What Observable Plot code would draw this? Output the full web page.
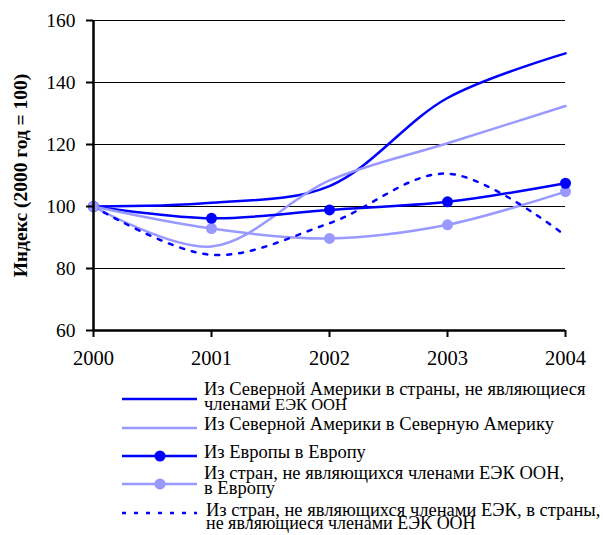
<!DOCTYPE html>
<html><head><meta charset="utf-8">
<script src="https://cdn.jsdelivr.net/npm/d3@7"></script>
<script src="https://cdn.jsdelivr.net/npm/@observablehq/plot@0.6"></script>
<style>
body{margin:0;background:#fff;font-family:'Liberation Serif','DejaVu Serif',serif;}
#wrap{position:relative;width:603px;height:535px;}
#chart{position:absolute;left:0;top:0;}
.lg{position:absolute;left:0;top:0;}
.lg text{font-family:'Liberation Serif','DejaVu Serif',serif;fill:#000;}
#chart svg text{font-family:'Liberation Serif','DejaVu Serif',serif;}
</style></head>
<body><div id="wrap"><div id="chart"></div></div>
<script>
const years = [2000, 2001, 2002, 2003, 2004];
const naToNonUnece = [100, 101.2, 106.6, 135, 149.4];
const naToNa = [100, 87.1, 108.4, 120.4, 132.4];
const euToEu = [100, 96.2, 98.9, 101.5, 107.5];
const nonUneceToEu = [100, 92.9, 89.7, 94.1, 104.8];
const nonToNon = [100, 84.4, 94.6, 110.6, 90.6];
const yTicks = [60, 80, 100, 120, 140, 160];
const gridTicks = [80, 100, 120, 140, 160];
const yLabel = "Индекс (2000 год = 100)";
// each line: list of [text, fontSize]
const seriesNames = [
  [[["Из Северной Америки в страны, не являющиеся", 18.5]], [["членами ", 18.5], ["ЕЭК ООН", 16.5]]],
  [[["Из Северной Америки в Северную Америку", 18.5]]],
  [[["Из Европы в Европу", 18.5]]],
  [[["Из стран, не являющихся членами ЕЭК ООН,", 18.5]], [["в Европу", 18.5]]],
  [[["Из стран, не являющихся членами ЕЭК, в страны,", 18.5]], [["не являющиеся членами ЕЭК ООН", 18]]]
];
const dark = "#0000ff", light = "#9999ff";
const styles = [
  {stroke: dark, dash: null, marker: false},
  {stroke: light, dash: null, marker: false},
  {stroke: dark, dash: null, marker: true},
  {stroke: light, dash: null, marker: true},
  {stroke: dark, dash: "4,8", marker: false}
];
const seriesVals = [naToNonUnece, naToNa, euToEu, nonUneceToEu, nonToNon];
const tab = (vals) => years.map((y, i) => ({year: y, v: vals[i]}));

const marks = [
  Plot.ruleY(gridTicks, {stroke: "#000", strokeWidth: 1}),
];
seriesVals.forEach((vals, k) => {
  const s = styles[k];
  marks.push(Plot.line(tab(vals), {x: "year", y: "v", stroke: s.stroke, strokeWidth: 2.5,
    curve: "catmull-rom", strokeDasharray: s.dash || undefined}));
});
marks.push(Plot.dot(tab(nonUneceToEu), {x: "year", y: "v", r: 5.5, fill: light, stroke: "none"}));
marks.push(Plot.dot(tab(euToEu), {x: "year", y: "v", r: 5.5, fill: dark, stroke: "none"}));
marks.push(Plot.dot(tab(naToNa).slice(0,1), {x: "year", y: "v", r: 5.5, fill: light, stroke: "none"}));
marks.push(Plot.ruleX([2000], {stroke: "#000", strokeWidth: 2.5}));
marks.push(Plot.ruleY([60], {stroke: "#000", strokeWidth: 2.5}));
marks.push(Plot.axisY({ticks: yTicks, tickSize: 7, tickPadding: 11, strokeWidth: 2, fontSize: 19.5, label: null, tickFormat: d => d}));
marks.push(Plot.axisX({ticks: years, tickSize: 7, tickPadding: 13, strokeWidth: 2, fontSize: 20.5, label: null, tickFormat: d => String(d)}));
marks.push(Plot.text([yLabel], {frameAnchor: "left", textAnchor: "middle", rotate: -90, dx: -73, fontWeight: "bold", fontSize: 19.5, fill: "#000"}));

const chart = Plot.plot({
  width: 603, height: 372,
  marginLeft: 93, marginRight: 38, marginTop: 20, marginBottom: 42,
  style: {fontFamily: "'Liberation Serif', 'DejaVu Serif', serif", color: "#000", background: "transparent"},
  x: {domain: [2000, 2004]},
  y: {domain: [60, 160]},
  marks
});
document.getElementById("chart").appendChild(chart);

// legend
const wrap = document.getElementById("wrap");
const lineY = [399, 428, 456, 484, 513];
const baselines = [[395, 409.5], [430], [458.3], [479, 494.3], [516, 529.3]];
const ns = "http://www.w3.org/2000/svg";
const lsvg = document.createElementNS(ns, "svg");
lsvg.setAttribute("width", 603); lsvg.setAttribute("height", 535);
lsvg.setAttribute("class", "lg");
styles.forEach((s, k) => {
  const l = document.createElementNS(ns, "line");
  l.setAttribute("x1", 122); l.setAttribute("x2", 197);
  l.setAttribute("y1", lineY[k]); l.setAttribute("y2", lineY[k]);
  l.setAttribute("stroke", s.stroke); l.setAttribute("stroke-width", 2.5);
  if (s.dash) l.setAttribute("stroke-dasharray", s.dash);
  lsvg.appendChild(l);
  if (s.marker) {
    const c = document.createElementNS(ns, "circle");
    c.setAttribute("cx", 160); c.setAttribute("cy", lineY[k]); c.setAttribute("r", 5.5);
    c.setAttribute("fill", s.stroke);
    lsvg.appendChild(c);
  }
  seriesNames[k].forEach((parts, j) => {
    const t = document.createElementNS(ns, "text");
    t.setAttribute("x", k === 4 ? 206 : 204);
    t.setAttribute("y", baselines[k][j]);
    parts.forEach(([str, fs]) => {
      const sp = document.createElementNS(ns, "tspan");
      sp.setAttribute("font-size", fs);
      sp.textContent = str;
      t.appendChild(sp);
    });
    lsvg.appendChild(t);
  });
});
wrap.appendChild(lsvg);
</script></body></html>
